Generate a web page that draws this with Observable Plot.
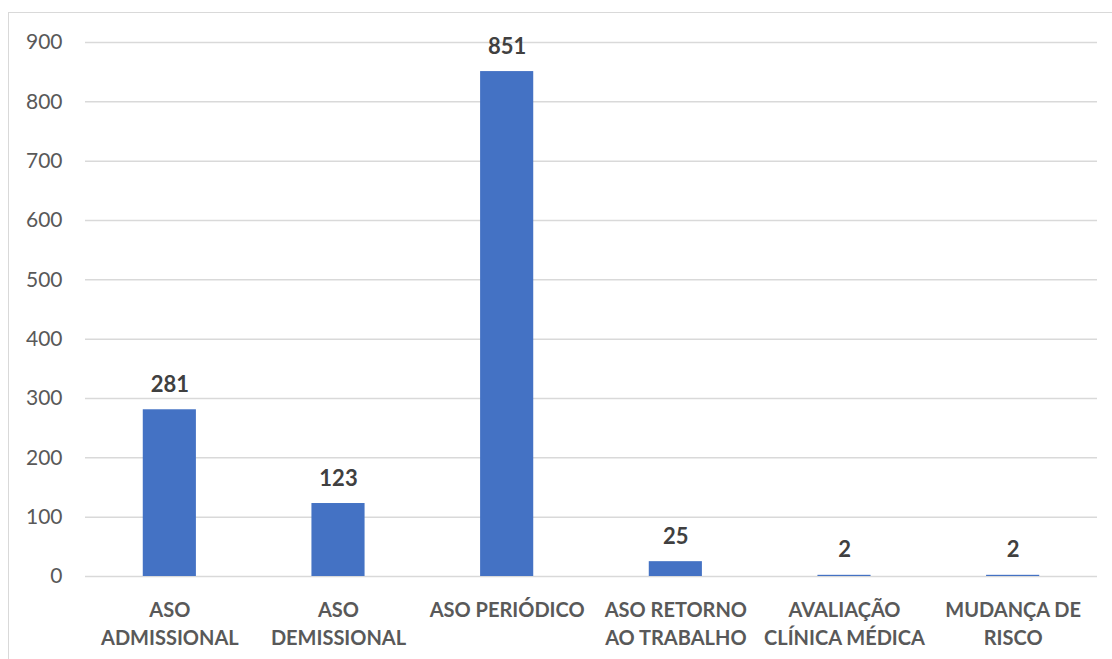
<!DOCTYPE html>
<html>
<head>
<meta charset="utf-8">
<script src="https://cdn.jsdelivr.net/npm/d3@7"></script>
<script src="https://cdn.jsdelivr.net/npm/@observablehq/plot@0.6"></script>
<style>
  html, body { margin: 0; padding: 0; background: #fff; }
  #wrap { position: relative; width: 1112px; height: 659px; overflow: hidden; }
  #border { position: absolute; left: 8px; top: 12px; width: 1200px; height: 700px;
            border: 1.5px solid #d9d9d9; box-sizing: border-box; }
  #chart { position: absolute; left: 0; top: 0; }
</style>
</head>
<body>
<div id="wrap"><div id="border"></div><div id="chart"></div></div>
<script>
// Exam types and counts
const categories = [
  "ASO ADMISSIONAL",
  "ASO DEMISSIONAL",
  "ASO PERIÓDICO",
  "ASO RETORNO AO TRABALHO",
  "AVALIAÇÃO CLÍNICA MÉDICA",
  "MUDANÇA DE RISCO"
];
const tickLabels = [
  "ASO\nADMISSIONAL",
  "ASO\nDEMISSIONAL",
  "ASO PERIÓDICO",
  "ASO RETORNO\nAO TRABALHO",
  "AVALIAÇÃO\nCLÍNICA MÉDICA",
  "MUDANÇA DE\nRISCO"
];
const counts = [281, 123, 851, 25, 2, 2];
const yTicks = [0, 100, 200, 300, 400, 500, 600, 700, 800, 900];

const data = categories.map((c, i) => ({category: c, value: counts[i]}));
const labelOf = new Map(categories.map((c, i) => [c, tickLabels[i]]));

const font = "Lato, 'Open Sans', sans-serif";

const chart = Plot.plot({
  width: 1112,
  height: 659,
  marginLeft: 85,
  marginRight: 15,
  marginTop: 42,
  marginBottom: 83,
  style: {fontFamily: font, background: "transparent", overflow: "visible"},
  x: {domain: categories, paddingInner: 0.685, paddingOuter: 0.3425, round: false, label: null},
  y: {domain: [0, 900], label: null},
  marks: [
    Plot.gridY(yTicks, {stroke: "#d9d9d9", strokeOpacity: 1, strokeWidth: 1.5}),
    Plot.axisY(yTicks, {
      tickSize: 0, tickPadding: 23, fontSize: 21, fill: "#595959", label: null
    }),
    Plot.barY(data, {x: "category", y: "value", fill: "#4472c4"}),
    Plot.text(data, {
      x: "category", y: "value", text: d => String(d.value),
      dy: -18, lineAnchor: "bottom", fontSize: 22, fontWeight: "bold", fill: "#404040"
    }),
    Plot.axisX({
      tickSize: 0, tickPadding: 21, fontSize: 20, fontWeight: "bold", fill: "#595959",
      lineHeight: 1.4, tickFormat: c => labelOf.get(c), label: null
    })
  ]
});
document.getElementById("chart").appendChild(chart);
</script>
</body>
</html>
